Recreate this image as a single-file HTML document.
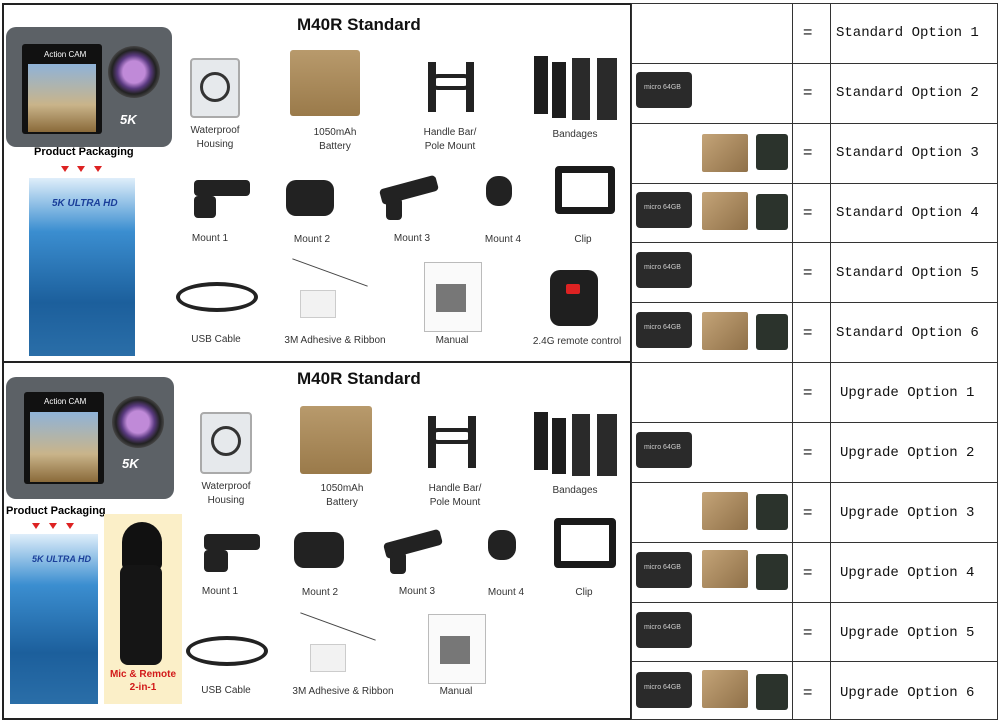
<!DOCTYPE html>
<html><head><meta charset="utf-8"><style>
*{margin:0;padding:0;box-sizing:border-box}
body{width:1000px;height:724px;background:#fff;position:relative;overflow:hidden;font-family:"Liberation Sans",sans-serif}
.a{position:absolute}
.lb{position:absolute;font-size:10px;color:#333;text-align:center;line-height:14px;transform:translateX(-50%);white-space:nowrap}
.t{position:absolute;font-size:17px;font-weight:bold;color:#111}
.cam{background:#5c6166;border-radius:10px}
.scr{background:linear-gradient(#8fb3d8,#c9b48a 60%,#8a6a3a)}
.lens{border-radius:50%;background:radial-gradient(circle,#c08ad8 0 30%,#5a3a80 45%,#222 60%,#444 70%,#333 100%)}
.box{background:linear-gradient(#dfeefa 0,#3b8ed0 30%,#1c5f9c 70%,#2a6ea8)}
.blk{background:#222;border-radius:4px}
.brn{background:linear-gradient(#b89a6c,#9a7a4a);border-radius:3px}
.tri{position:absolute;width:0;height:0;border-left:4px solid transparent;border-right:4px solid transparent;border-top:6px solid #d22}
.sd{position:absolute;width:56px;height:36px;background:#2a2a2a;border-radius:4px;color:#ccc;font-size:7px;padding:12px 0 0 8px}
.bt{position:absolute;width:46px;height:38px;background:linear-gradient(135deg,#c4a478,#8f7048);border-radius:2px}
.ch{position:absolute;width:32px;height:36px;background:#2b332c;border-radius:3px}
.op{position:absolute;left:836px;font-family:"Liberation Mono",monospace;font-size:14px;color:#111}
.eq{position:absolute;left:803px;font-size:16px;color:#111}
</style></head><body>
<!-- left panel borders -->
<div class="a" style="left:2px;top:3px;width:630px;height:717px;border:2px solid #222"></div>
<div class="a" style="left:2px;top:361px;width:630px;height:2px;background:#222"></div>
<!-- table -->
<div class="a" style="left:631px;top:3px;width:367px;height:717px;border:1px solid #333"></div>
<div class="a" style="left:792px;top:3px;width:1px;height:717px;background:#333"></div>
<div class="a" style="left:830px;top:3px;width:1px;height:717px;background:#333"></div>
<div class="a" style="left:631px;top:63px;width:367px;height:1px;background:#333"></div>
<div class="a" style="left:631px;top:123px;width:367px;height:1px;background:#333"></div>
<div class="a" style="left:631px;top:183px;width:367px;height:1px;background:#333"></div>
<div class="a" style="left:631px;top:242px;width:367px;height:1px;background:#333"></div>
<div class="a" style="left:631px;top:302px;width:367px;height:1px;background:#333"></div>
<div class="a" style="left:631px;top:362px;width:367px;height:1px;background:#333"></div>
<div class="a" style="left:631px;top:422px;width:367px;height:1px;background:#333"></div>
<div class="a" style="left:631px;top:482px;width:367px;height:1px;background:#333"></div>
<div class="a" style="left:631px;top:542px;width:367px;height:1px;background:#333"></div>
<div class="a" style="left:631px;top:602px;width:367px;height:1px;background:#333"></div>
<div class="a" style="left:631px;top:661px;width:367px;height:1px;background:#333"></div>

<div class="eq" style="top:24px">=</div><div class="op" style="top:25px">Standard Option 1</div>
<div class="eq" style="top:84px">=</div><div class="op" style="top:85px">Standard Option 2</div>
<div class="eq" style="top:144px">=</div><div class="op" style="top:145px">Standard Option 3</div>
<div class="eq" style="top:204px">=</div><div class="op" style="top:205px">Standard Option 4</div>
<div class="eq" style="top:264px">=</div><div class="op" style="top:265px">Standard Option 5</div>
<div class="eq" style="top:324px">=</div><div class="op" style="top:325px">Standard Option 6</div>
<div class="eq" style="top:384px">=</div><div class="op" style="top:385px;left:840px">Upgrade Option 1</div>
<div class="eq" style="top:444px">=</div><div class="op" style="top:445px;left:840px">Upgrade Option 2</div>
<div class="eq" style="top:504px">=</div><div class="op" style="top:505px;left:840px">Upgrade Option 3</div>
<div class="eq" style="top:564px">=</div><div class="op" style="top:565px;left:840px">Upgrade Option 4</div>
<div class="eq" style="top:624px">=</div><div class="op" style="top:625px;left:840px">Upgrade Option 5</div>
<div class="eq" style="top:684px">=</div><div class="op" style="top:685px;left:840px">Upgrade Option 6</div>

<div class="sd" style="left:636px;top:72px">micro 64GB</div>
<div class="bt" style="left:702px;top:134px"></div><div class="ch" style="left:756px;top:134px"></div>
<div class="sd" style="left:636px;top:192px">micro 64GB</div><div class="bt" style="left:702px;top:192px"></div><div class="ch" style="left:756px;top:194px"></div>
<div class="sd" style="left:636px;top:252px">micro 64GB</div>
<div class="sd" style="left:636px;top:312px">micro 64GB</div><div class="bt" style="left:702px;top:312px"></div><div class="ch" style="left:756px;top:314px"></div>
<div class="sd" style="left:636px;top:432px">micro 64GB</div>
<div class="bt" style="left:702px;top:492px"></div><div class="ch" style="left:756px;top:494px"></div>
<div class="sd" style="left:636px;top:552px">micro 64GB</div><div class="bt" style="left:702px;top:550px"></div><div class="ch" style="left:756px;top:554px"></div>
<div class="sd" style="left:636px;top:612px">micro 64GB</div>
<div class="sd" style="left:636px;top:672px">micro 64GB</div><div class="bt" style="left:702px;top:670px"></div><div class="ch" style="left:756px;top:674px"></div>

<!-- TOP BLOCK -->
<div class="t" style="left:297px;top:15px">M40R Standard</div>
<div class="a cam" style="left:6px;top:27px;width:166px;height:120px"></div>
<div class="a" style="left:22px;top:44px;width:80px;height:90px;background:#111;border-radius:3px"></div>
<div class="a" style="left:44px;top:50px;color:#fff;font-size:8px">Action CAM</div>
<div class="a scr" style="left:28px;top:64px;width:68px;height:68px"></div>
<div class="a lens" style="left:108px;top:46px;width:52px;height:52px"></div>
<div class="a" style="left:120px;top:112px;color:#fff;font-size:13px;font-weight:bold;font-style:italic">5K</div>
<div class="a" style="left:34px;top:146px;font-size:11px;font-weight:bold">Product Packaging</div>
<div class="tri" style="left:61px;top:166px"></div><div class="tri" style="left:77px;top:166px"></div><div class="tri" style="left:94px;top:166px"></div>
<div class="a box" style="left:29px;top:178px;width:106px;height:178px"></div>
<div class="a" style="left:52px;top:198px;color:#1b3f9a;font-size:10px;font-weight:bold;font-style:italic">5K ULTRA HD</div>

<div class="a" style="left:190px;top:58px;width:50px;height:60px;background:#e6e9ec;border:2px solid #aaa;border-radius:4px"></div>
<div class="a" style="left:200px;top:72px;width:30px;height:30px;border:3px solid #333;border-radius:50%"></div>
<div class="a brn" style="left:290px;top:50px;width:70px;height:66px"></div>
<div class="a" style="left:428px;top:62px;width:8px;height:50px;background:#222"></div><div class="a" style="left:466px;top:62px;width:8px;height:50px;background:#222"></div><div class="a" style="left:430px;top:74px;width:42px;height:16px;border:4px solid #222;border-radius:8px"></div>
<div class="a" style="left:534px;top:56px;width:14px;height:58px;background:#1d1d1d"></div><div class="a" style="left:552px;top:62px;width:14px;height:56px;background:#1d1d1d"></div><div class="a" style="left:572px;top:58px;width:18px;height:62px;background:#2a2a2a"></div><div class="a" style="left:597px;top:58px;width:20px;height:62px;background:#2a2a2a"></div>
<div class="lb" style="left:215px;top:124px">Waterproof<br>Housing</div>
<div class="lb" style="left:335px;top:126px">1050mAh<br>Battery</div>
<div class="lb" style="left:450px;top:126px">Handle Bar/<br>Pole Mount</div>
<div class="lb" style="left:575px;top:128px">Bandages</div>

<div class="a blk" style="left:194px;top:180px;width:56px;height:16px"></div><div class="a blk" style="left:194px;top:196px;width:22px;height:22px"></div>
<div class="a blk" style="left:286px;top:180px;width:48px;height:36px;border-radius:10px"></div>
<div class="a blk" style="left:380px;top:182px;width:58px;height:16px;transform:rotate(-15deg)"></div><div class="a blk" style="left:386px;top:198px;width:16px;height:22px"></div>
<div class="a blk" style="left:486px;top:176px;width:26px;height:30px;border-radius:12px"></div>
<div class="a" style="left:555px;top:166px;width:60px;height:48px;border:7px solid #1a1a1a;border-radius:4px"></div>
<div class="lb" style="left:210px;top:232px">Mount 1</div>
<div class="lb" style="left:312px;top:233px">Mount 2</div>
<div class="lb" style="left:412px;top:232px">Mount 3</div>
<div class="lb" style="left:503px;top:233px">Mount 4</div>
<div class="lb" style="left:583px;top:233px">Clip</div>

<div class="a" style="left:176px;top:282px;width:82px;height:30px;border:4px solid #222;border-radius:50%"></div>
<div class="a" style="left:300px;top:290px;width:36px;height:28px;background:#f2f2f2;border:1px solid #ccc"></div>
<div class="a" style="left:290px;top:272px;width:80px;height:1px;background:#444;transform:rotate(20deg)"></div>
<div class="a" style="left:424px;top:262px;width:58px;height:70px;border:1px solid #bbb;background:#fafafa"></div>
<div class="a" style="left:436px;top:284px;width:30px;height:28px;background:#777"></div>
<div class="a" style="left:550px;top:270px;width:48px;height:56px;background:#1f1f1f;border-radius:10px"></div>
<div class="a" style="left:566px;top:284px;width:14px;height:10px;background:#d22;border-radius:2px"></div>
<div class="lb" style="left:216px;top:333px">USB Cable</div>
<div class="lb" style="left:335px;top:334px">3M Adhesive &amp; Ribbon</div>
<div class="lb" style="left:452px;top:334px">Manual</div>
<div class="lb" style="left:577px;top:335px">2.4G remote control</div>

<!-- BOTTOM BLOCK -->
<div class="t" style="left:297px;top:369px">M40R Standard</div>
<div class="a cam" style="left:6px;top:377px;width:168px;height:122px"></div>
<div class="a" style="left:24px;top:392px;width:80px;height:92px;background:#111;border-radius:3px"></div>
<div class="a" style="left:44px;top:397px;color:#fff;font-size:8px">Action CAM</div>
<div class="a scr" style="left:30px;top:412px;width:68px;height:70px"></div>
<div class="a lens" style="left:112px;top:396px;width:52px;height:52px"></div>
<div class="a" style="left:122px;top:456px;color:#fff;font-size:13px;font-weight:bold;font-style:italic">5K</div>
<div class="a" style="left:6px;top:505px;font-size:11px;font-weight:bold">Product Packaging</div>
<div class="tri" style="left:32px;top:523px"></div><div class="tri" style="left:49px;top:523px"></div><div class="tri" style="left:66px;top:523px"></div>
<div class="a box" style="left:10px;top:534px;width:88px;height:170px"></div>
<div class="a" style="left:32px;top:554px;color:#1b3f9a;font-size:9px;font-weight:bold;font-style:italic">5K ULTRA HD</div>
<div class="a" style="left:104px;top:514px;width:78px;height:190px;background:#fbefc8"></div>
<div class="a" style="left:122px;top:522px;width:40px;height:48px;background:#111;border-radius:20px 20px 6px 6px"></div>
<div class="a" style="left:120px;top:565px;width:42px;height:100px;background:#151515;border-radius:8px"></div>
<div class="a" style="left:104px;top:668px;width:78px;text-align:center;color:#d21a1a;font-size:10px;font-weight:bold;line-height:13px">Mic &amp; Remote<br>2-in-1</div>

<div class="a" style="left:200px;top:412px;width:52px;height:62px;background:#e6e9ec;border:2px solid #aaa;border-radius:4px"></div>
<div class="a" style="left:211px;top:426px;width:30px;height:30px;border:3px solid #333;border-radius:50%"></div>
<div class="a brn" style="left:300px;top:406px;width:72px;height:68px"></div>
<div class="a" style="left:428px;top:416px;width:8px;height:52px;background:#222"></div><div class="a" style="left:468px;top:416px;width:8px;height:52px;background:#222"></div><div class="a" style="left:430px;top:428px;width:44px;height:16px;border:4px solid #222;border-radius:8px"></div>
<div class="a" style="left:534px;top:412px;width:14px;height:58px;background:#1d1d1d"></div><div class="a" style="left:552px;top:418px;width:14px;height:56px;background:#1d1d1d"></div><div class="a" style="left:572px;top:414px;width:18px;height:62px;background:#2a2a2a"></div><div class="a" style="left:597px;top:414px;width:20px;height:62px;background:#2a2a2a"></div>
<div class="lb" style="left:226px;top:480px">Waterproof<br>Housing</div>
<div class="lb" style="left:342px;top:482px">1050mAh<br>Battery</div>
<div class="lb" style="left:455px;top:482px">Handle Bar/<br>Pole Mount</div>
<div class="lb" style="left:575px;top:484px">Bandages</div>

<div class="a blk" style="left:204px;top:534px;width:56px;height:16px"></div><div class="a blk" style="left:204px;top:550px;width:24px;height:22px"></div>
<div class="a blk" style="left:294px;top:532px;width:50px;height:36px;border-radius:10px"></div>
<div class="a blk" style="left:384px;top:536px;width:58px;height:16px;transform:rotate(-15deg)"></div><div class="a blk" style="left:390px;top:552px;width:16px;height:22px"></div>
<div class="a blk" style="left:488px;top:530px;width:28px;height:30px;border-radius:12px"></div>
<div class="a" style="left:554px;top:518px;width:62px;height:50px;border:7px solid #1a1a1a;border-radius:4px"></div>
<div class="lb" style="left:220px;top:585px">Mount 1</div>
<div class="lb" style="left:320px;top:586px">Mount 2</div>
<div class="lb" style="left:417px;top:585px">Mount 3</div>
<div class="lb" style="left:506px;top:586px">Mount 4</div>
<div class="lb" style="left:584px;top:586px">Clip</div>

<div class="a" style="left:186px;top:636px;width:82px;height:30px;border:4px solid #222;border-radius:50%"></div>
<div class="a" style="left:310px;top:644px;width:36px;height:28px;background:#f2f2f2;border:1px solid #ccc"></div>
<div class="a" style="left:298px;top:626px;width:80px;height:1px;background:#444;transform:rotate(20deg)"></div>
<div class="a" style="left:428px;top:614px;width:58px;height:70px;border:1px solid #bbb;background:#fafafa"></div>
<div class="a" style="left:440px;top:636px;width:30px;height:28px;background:#777"></div>
<div class="lb" style="left:226px;top:684px">USB Cable</div>
<div class="lb" style="left:343px;top:685px">3M Adhesive &amp; Ribbon</div>
<div class="lb" style="left:456px;top:685px">Manual</div>
</body></html>
